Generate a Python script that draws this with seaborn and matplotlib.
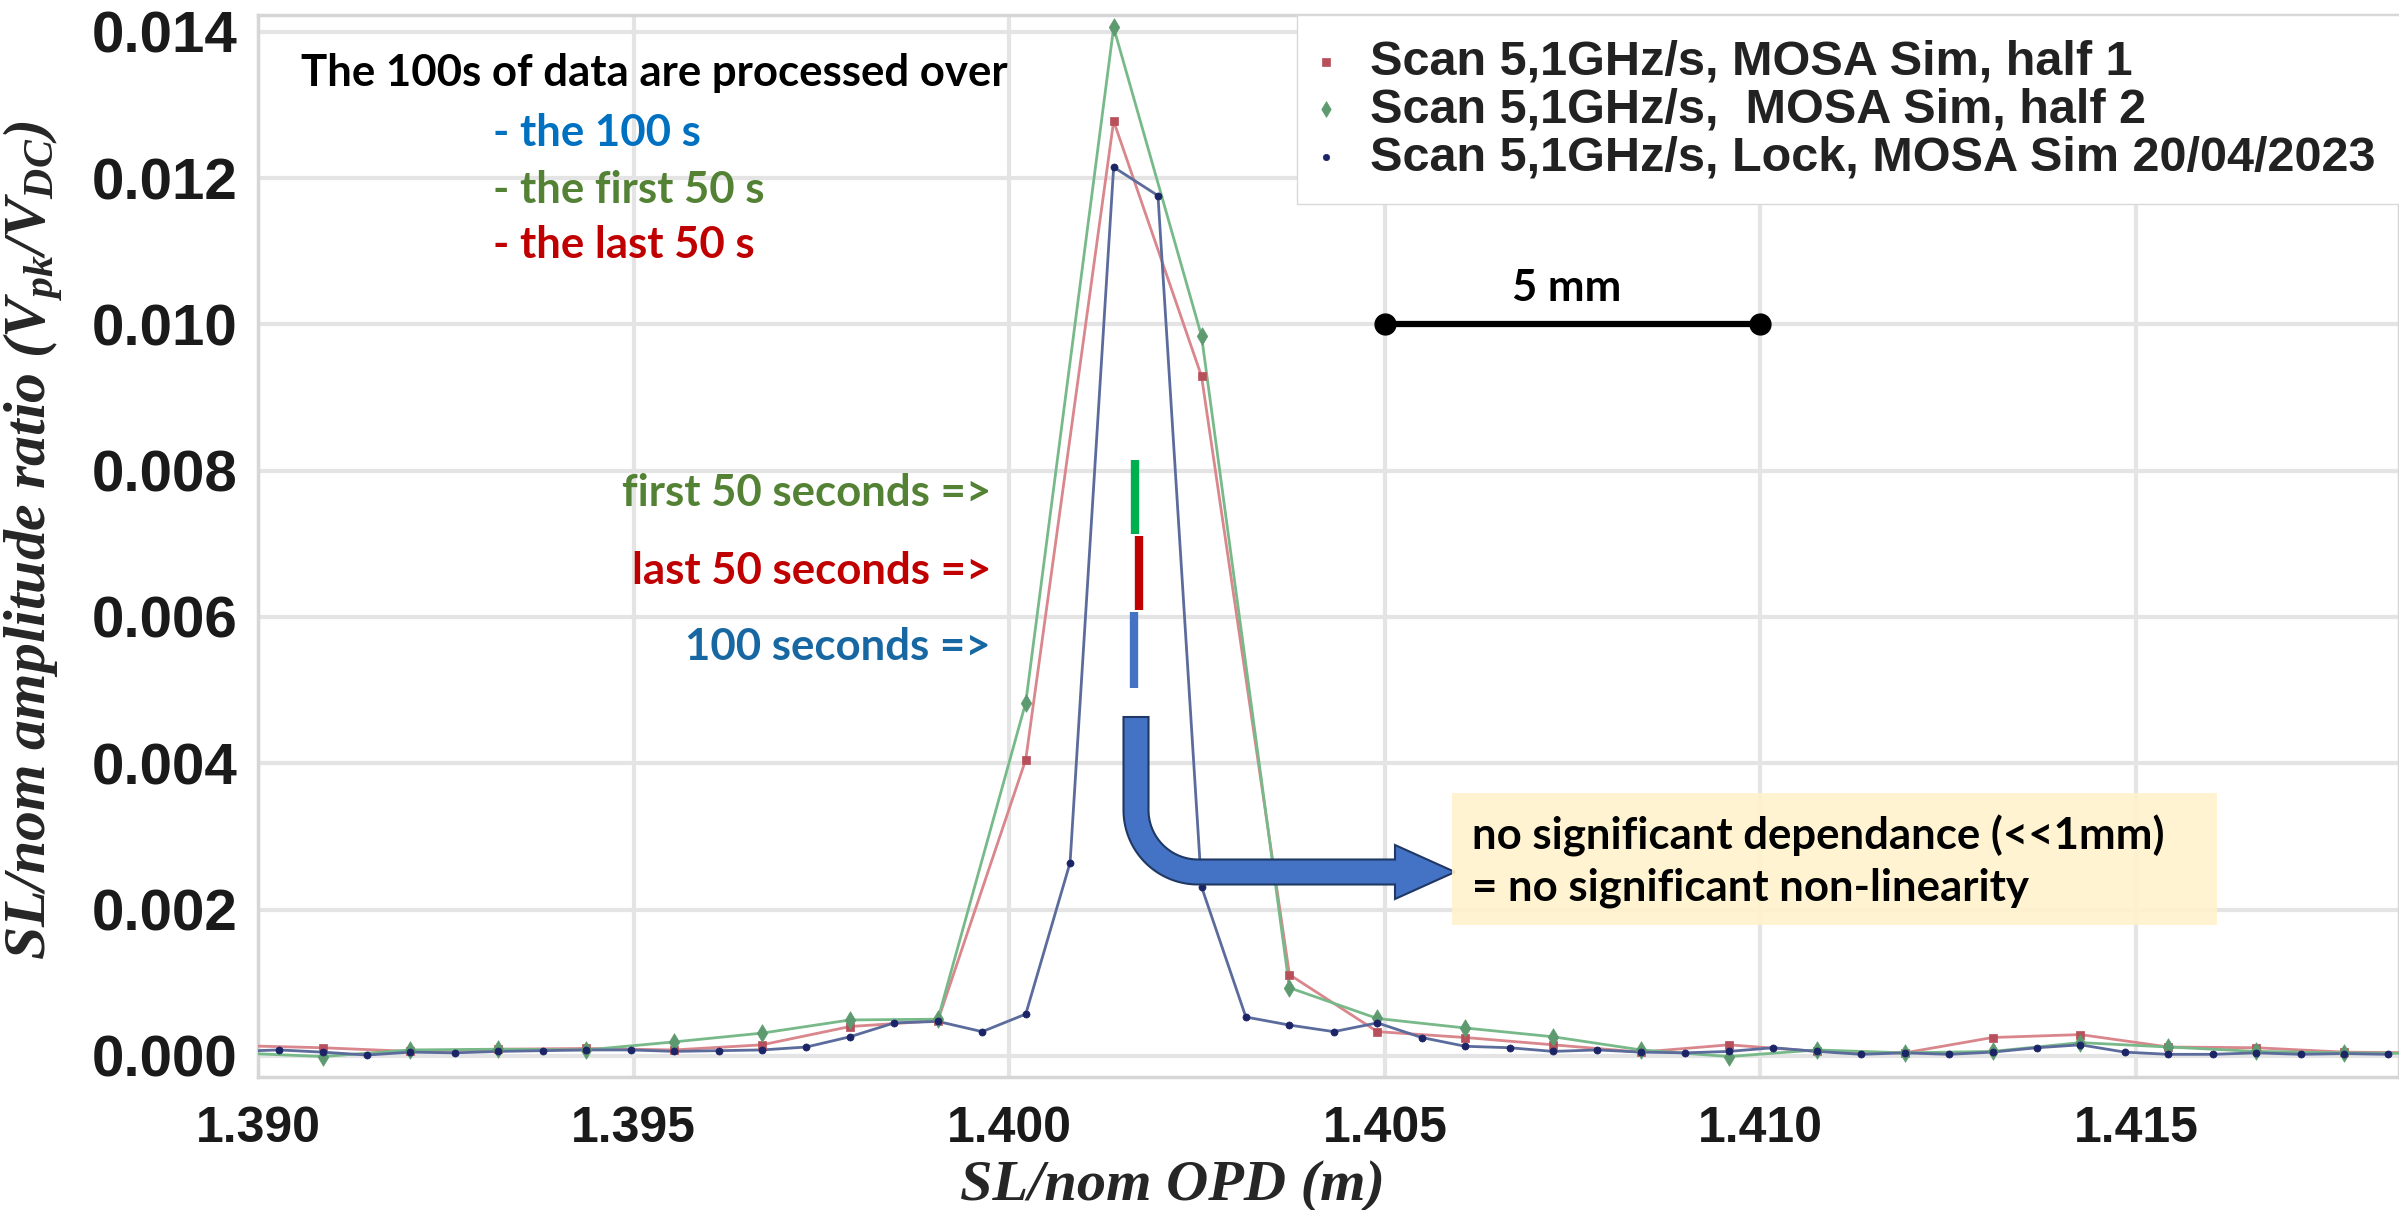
import numpy as np
import pandas as pd
import matplotlib
matplotlib.use("Agg")
import matplotlib.pyplot as plt
from matplotlib.patches import Polygon, Rectangle
import seaborn as sns

# 1. Values
# the two halves (first / last 50 s) share the same OPD sampling
opd_half = [1.38969, 1.39086, 1.39203, 1.39320, 1.39437, 1.39554, 1.39671, 1.39788,
            1.39905, 1.40022, 1.40139, 1.40256, 1.40373, 1.40490, 1.40607, 1.40724,
            1.40841, 1.40958, 1.41075, 1.41192, 1.41309, 1.41426, 1.41543, 1.41660,
            1.41777, 1.41894]
ratio_half1 = [0.00014, 0.00011, 0.00006, 0.00009, 0.00010, 0.00008, 0.00015, 0.00040,
               0.00048, 0.00405, 0.01278, 0.00929, 0.00111, 0.00033, 0.00025, 0.00015,
               0.00005, 0.00015, 0.00006, 0.00004, 0.00025, 0.00029, 0.00012, 0.00011,
               0.00005, 0.00004]
ratio_half2 = [0.00004, -0.00001, 0.00008, 0.00009, 0.00008, 0.00019, 0.00031, 0.00049,
               0.00050, 0.00483, 0.01406, 0.00984, 0.00093, 0.00051, 0.00038, 0.00026,
               0.00008, -0.00001, 0.00008, 0.00004, 0.00006, 0.00018, 0.00012, 0.00006,
               0.00004, 0.00003]

# the full 100 s (lock) is sampled twice as finely
opd_lock = [1.38969, 1.39028, 1.39086, 1.39145, 1.39203, 1.39262, 1.39320, 1.39379,
            1.39437, 1.39496, 1.39554, 1.39613, 1.39671, 1.39730, 1.39788, 1.39847,
            1.39905, 1.39964, 1.40022, 1.40081, 1.40139, 1.40198, 1.40256, 1.40315,
            1.40373, 1.40432, 1.40490, 1.40549, 1.40607, 1.40666, 1.40724, 1.40783,
            1.40841, 1.40900, 1.40958, 1.41017, 1.41075, 1.41134, 1.41192, 1.41251,
            1.41309, 1.41368, 1.41426, 1.41485, 1.41543, 1.41602, 1.41660, 1.41719,
            1.41777, 1.41836]
ratio_lock = [0.00006, 0.00008, 0.00005, 0.00001, 0.00005, 0.00004, 0.00006, 0.00007,
              0.00008, 0.00008, 0.00006, 0.00007, 0.00008, 0.00012, 0.00026, 0.00045,
              0.00047, 0.00033, 0.00057, 0.00264, 0.01215, 0.01176, 0.00231, 0.00053,
              0.00042, 0.00033, 0.00045, 0.00025, 0.00013, 0.00011, 0.00006, 0.00008,
              0.00005, 0.00004, 0.00006, 0.00011, 0.00006, 0.00002, 0.00004, 0.00002,
              0.00005, 0.00011, 0.00015, 0.00005, 0.00002, 0.00002, 0.00004, 0.00002,
              0.00003, 0.00002]

series_labels = ["Scan 5,1GHz/s, MOSA Sim, half 1",
                 "Scan 5,1GHz/s,  MOSA Sim, half 2",
                 "Scan 5,1GHz/s, Lock, MOSA Sim 20/04/2023"]

x_ticks = [1.390, 1.395, 1.400, 1.405, 1.410, 1.415]
y_ticks = [0.000, 0.002, 0.004, 0.006, 0.008, 0.010, 0.012, 0.014]

# fitted peak position for each processing window (short coloured bars)
peak_opd = [1.40167, 1.40173, 1.40166]       # first 50 s, last 50 s, 100 s
peak_bar_low = [0.00714, 0.00609, 0.00503]
peak_bar_high = [0.00814, 0.00710, 0.00607]

scale_bar = [1.405, 1.410]   # 5 mm
scale_bar_y = 0.010

# 2. Table for seaborn
df = pd.concat([
    pd.DataFrame({"opd": opd_half, "ratio": ratio_half1, "serie": series_labels[0]}),
    pd.DataFrame({"opd": opd_half, "ratio": ratio_half2, "serie": series_labels[1]}),
    pd.DataFrame({"opd": opd_lock, "ratio": ratio_lock, "serie": series_labels[2]}),
], ignore_index=True)

line_colors = {series_labels[0]: "#d9868c", series_labels[1]: "#78b98a",
               series_labels[2]: "#5b6b9c"}
mark_colors = ["#b8505b", "#5e9a70", "#1b2466"]
mark_shapes = ["s", "d", "o"]
mark_sizes = [34, 80, 26]

# 3. Figure
sns.set_theme(style="whitegrid")
plt.rcParams["mathtext.fontset"] = "custom"
plt.rcParams["mathtext.it"] = "Liberation Serif:italic:bold"
plt.rcParams["mathtext.rm"] = "Liberation Serif:italic:bold"
plt.rcParams["mathtext.bf"] = "Liberation Serif:italic:bold"

W, H = 2399, 1210
fig = plt.figure(figsize=(W / 100, H / 100), dpi=100)
ax_l, ax_r, ax_t, ax_b = 258, 2399, 15, 1077
ax = fig.add_axes([ax_l / W, 1 - ax_b / H, (ax_r - ax_l) / W, (ax_b - ax_t) / H])
ax.set_facecolor("white")


def fx(px):
    return px / W


def fy(py):
    return 1 - py / H


sns.lineplot(data=df, x="opd", y="ratio", hue="serie", palette=line_colors,
             estimator=None, sort=True, linewidth=2.0, legend=False, ax=ax, zorder=3)
for i, lab in enumerate(series_labels):
    sub = df[df["serie"] == lab]
    sns.scatterplot(x=sub["opd"], y=sub["ratio"], marker=mark_shapes[i],
                    color=mark_colors[i], edgecolor=mark_colors[i], linewidth=0.5,
                    s=mark_sizes[i], label=lab, ax=ax, zorder=4)

ax.set_xlim(1.390, 1.4185)
ax.set_ylim(-0.00029, 0.01423)
ax.set_xticks(x_ticks)
ax.set_yticks(y_ticks)
ax.set_xticklabels([f"{v:.3f}" for v in x_ticks],
                   fontdict={"family": "Liberation Sans", "weight": "bold", "size": 36})
ax.set_yticklabels([f"{v:.3f}" for v in y_ticks],
                   fontdict={"family": "Liberation Sans", "weight": "bold", "size": 42})
ax.tick_params(axis="x", length=0, pad=21, colors="#1a1a1a")
ax.tick_params(axis="y", length=0, pad=15, colors="#1a1a1a")
ax.grid(True, color="#e4e4e4", linewidth=3)
for sp in ax.spines.values():
    sp.set_color("#d6d6d6")
    sp.set_linewidth(2.5)

serif = {"family": "Liberation Serif", "weight": "bold", "style": "italic"}
ax.set_xlabel("SL/nom OPD (m)", fontdict={**serif, "size": 42})
ax.set_ylabel(r"SL/nom amplitude ratio ($V_{pk}/V_{DC}$)", fontdict={**serif, "size": 43})
ax.xaxis.set_label_coords(0.427, -0.078)
ax.yaxis.set_label_coords(-0.09, 0.505)

leg = ax.legend(loc="upper left", mode="expand",
                bbox_to_anchor=(fx(1297), fy(190), 1.01 - fx(1297), fy(15) - fy(190)),
                bbox_transform=fig.transFigure, borderaxespad=0,
                prop={"family": "Liberation Sans", "weight": "bold", "size": 35},
                frameon=True, fancybox=False, framealpha=1, edgecolor="#d9d9d9",
                handletextpad=0.8, labelspacing=0.06, borderpad=0.5,
                handlelength=0.2, markerscale=0.9)
for t in leg.get_texts():
    t.set_color("#222222")

# 4. Annotations
calibri = ["Lato", "DejaVu Sans"]
txt_size = 31.5
fig.text(fx(301), fy(73), "The 100s of data are processed over", family=calibri,
         weight="bold", size=txt_size, color="black", ha="left", va="center")
fig.text(fx(493), fy(133), "- the 100 s", family=calibri, weight="bold",
         size=txt_size, color="#0070c0", ha="left", va="center")
fig.text(fx(493), fy(190), "- the first 50 s", family=calibri, weight="bold",
         size=txt_size, color="#548235", ha="left", va="center")
fig.text(fx(493), fy(245), "- the last 50 s", family=calibri, weight="bold",
         size=txt_size, color="#c00000", ha="left", va="center")

fig.text(fx(991), fy(493), "first 50 seconds =>", family=calibri, weight="bold",
         size=txt_size, color="#548235", ha="right", va="center")
fig.text(fx(991), fy(571), "last 50 seconds =>", family=calibri, weight="bold",
         size=txt_size, color="#c00000", ha="right", va="center")
fig.text(fx(991), fy(647), "100 seconds =>", family=calibri, weight="bold",
         size=txt_size, color="#1767a3", ha="right", va="center")

bar_colors = ["#00b050", "#c00000", "#4472c4"]
for xp, lo, hi, c in zip(peak_opd, peak_bar_low, peak_bar_high, bar_colors):
    ax.plot([xp, xp], [lo, hi], color=c, linewidth=6, solid_capstyle="butt", zorder=5)

# 5 mm scale bar
ax.plot(scale_bar, [scale_bar_y, scale_bar_y], color="black", linewidth=4.5,
        marker="o", markersize=15, zorder=5)
fig.text(fx(1567), fy(288), "5 mm", family=calibri, weight="bold", size=txt_size,
         color="black", ha="center", va="center")

# bent blue arrow (drawn in pixel space, y going down)
cx, cy = 1198, 810
r_out, r_in = 74.5, 49.5
th_out = np.linspace(np.pi, np.pi / 2, 30)
th_in = np.linspace(np.pi / 2, np.pi, 30)
pts = [(1123.5, 717), (1123.5, 810)]
pts += [(cx + r_out * np.cos(t), cy + r_out * np.sin(t)) for t in th_out]
pts += [(1395, 884.5), (1395, 899), (1455, 872), (1395, 845), (1395, 859.5)]
pts += [(cx + r_in * np.cos(t), cy + r_in * np.sin(t)) for t in th_in]
pts += [(1148.5, 717)]
arrow = Polygon([(fx(px), fy(py)) for px, py in pts], closed=True,
                transform=fig.transFigure, facecolor="#4472c4", edgecolor="#1f3864",
                linewidth=1.5, zorder=6)
fig.patches.append(arrow)

box = Rectangle((fx(1452), fy(925)), fx(2217) - fx(1452), fy(793) - fy(925),
                transform=fig.transFigure, facecolor="#fff2cc", edgecolor="none",
                alpha=0.9, zorder=6)
fig.patches.append(box)
fig.text(fx(1472), fy(836), "no significant dependance (<<1mm)", family=calibri,
         weight="bold", size=txt_size, color="black", ha="left", va="center", zorder=7)
fig.text(fx(1472), fy(888), "= no significant non-linearity", family=calibri,
         weight="bold", size=txt_size, color="black", ha="left", va="center", zorder=7)

plt.savefig("out.png", dpi=100)
